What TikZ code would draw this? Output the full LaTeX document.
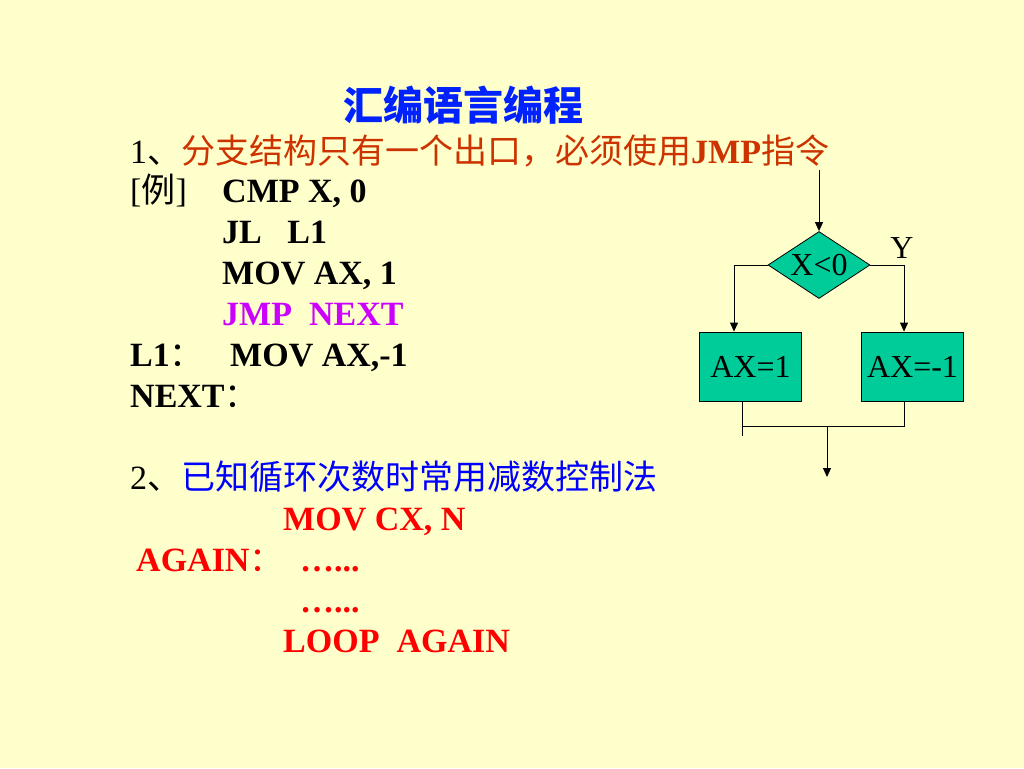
\documentclass[tikz,border=0pt]{standalone}
\usepackage{fontspec}
\setmainfont{Liberation Serif}
\newfontfamily\cjk{Noto Sans CJK SC}
\usetikzlibrary{shapes.geometric,arrows.meta}
\definecolor{bgc}{HTML}{FFFFCC}
\definecolor{titleblue}{HTML}{0022FF}
\definecolor{lineblue}{HTML}{0000FF}
\definecolor{orangered}{HTML}{CC3300}
\definecolor{jmppurple}{HTML}{CC00FF}
\definecolor{codered}{HTML}{FF0000}
\definecolor{teal}{HTML}{00CC99}
\tikzset{
  txt/.style={anchor=base west, inner sep=0pt, font=\fontsize{34}{41}\selectfont\bfseries},
  flowbox/.style={draw=black, line width=0.8pt, fill=teal, minimum width=102pt, minimum height=69pt, inner sep=0pt, font=\fontsize{32}{38}\selectfont},
  decision/.style={diamond, draw=black, line width=0.8pt, fill=teal, aspect=1.5, minimum width=102pt, minimum height=67pt, inner sep=0pt, font=\fontsize{32}{38}\selectfont},
  conn/.style={line width=1pt, draw=black},
  arr/.style={conn, -{Triangle[length=9pt,width=8pt]}}
}
\begin{document}
\begin{tikzpicture}[x=1pt,y=-1pt]
\fill[bgc] (0,0) rectangle (1024,768);
\useasboundingbox (0,0) rectangle (1024,768);

% title
\node[txt, font=\fontsize{40}{48}\selectfont\cjk\bfseries, text=titleblue] (title) at (343,120) {汇编语言编程};

% part 1
\node[txt] (l1) at (130,163) {{\mdseries 1}{\mdseries\cjk 、}\textcolor{orangered}{{\mdseries\cjk 分支结构只有一个出口，必须使用}JMP{\mdseries\cjk 指令}}};
\node[txt] (ex) at (130,202) {\mdseries [{\cjk 例}]};
\node[txt] (c1) at (222,202) {CMP X, 0};
\node[txt] (c2) at (222,243) {JL\ \ \ L1};
\node[txt] (c3) at (222,284) {MOV AX, 1};
\node[txt, text=jmppurple] (c4) at (222,325) {JMP\ \ NEXT};
\node[txt] (lab1) at (130,366) {L1{\mdseries\cjk ：}};
\node[txt] (c5) at (230,366) {MOV AX,-1};
\node[txt] (lab2) at (130,407) {NEXT{\mdseries\cjk ：}};

% part 2
\node[txt] (l2) at (130,489) {{\mdseries 2}{\mdseries\cjk 、}\textcolor{lineblue}{\mdseries\cjk 已知循环次数时常用减数控制法}};
\node[txt, text=codered] (d1) at (283,530) {MOV CX, N};
\node[txt, text=codered] (d2) at (136,571) {AGAIN{\mdseries\cjk ：}};
\node[txt, text=codered] (d3) at (300,571) {…...};
\node[txt, text=codered] (d4) at (300,612) {…...};
\node[txt, text=codered] (d5) at (283,652) {LOOP\ \ AGAIN};

% flowchart
\coordinate (start) at (819,170);
\node[decision] (dec) at (819,265) {X<0};
\node[flowbox] (b1) at (750.5,366.5) {AX=1};
\node[flowbox] (b2) at (912.5,366.5) {AX=-1};
\node[inner sep=0pt, font=\fontsize{32}{38}\selectfont] (ylab) at (902,248) {Y};
\coordinate (jl) at (742,426);
\coordinate (jr) at (904,426);
\coordinate (ltail) at (742,436);
\coordinate (jm) at (827,426);
\coordinate (out) at (827,477);

\draw[arr] (start) -- (dec.north);
\draw[arr] (dec.west) -| ([xshift=-16.5pt]b1.north);
\draw[arr] (dec.east) -| ([xshift=-8.5pt]b2.north);
\draw[conn] ([xshift=-8.5pt]b1.south) -- (ltail);
\draw[conn] ([xshift=-8.5pt]b2.south) -- (jr) -- (jl);
\draw[arr] (jm) -- (out);
\end{tikzpicture}
\end{document}
